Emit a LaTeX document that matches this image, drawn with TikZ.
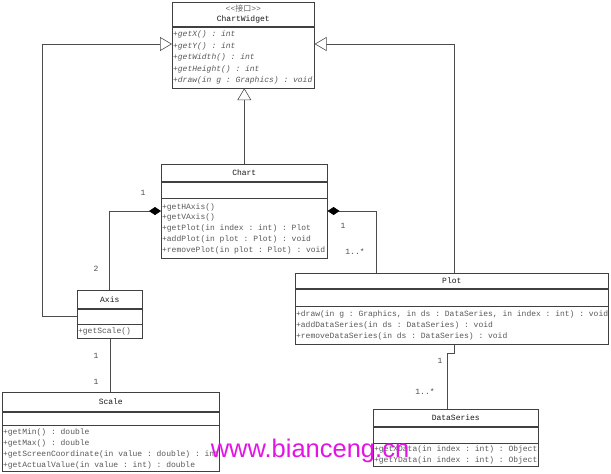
\documentclass[tikz,border=0pt]{standalone}
\usepackage{fontspec}
\newfontfamily\umlfont{Liberation Mono}
\newfontfamily\cjk{Noto Sans CJK SC}
\newfontfamily\markfont{Liberation Sans}
\usetikzlibrary{arrows.meta, positioning}
\definecolor{wmark}{RGB}{228,20,228}
% fixed spaces, no line breaks in the member lists
\newcommand\umlsp{\spaceskip=0.6em\relax\xspaceskip=0.6em\relax}
\newcommand\members[1]{\begin{tabular}{@{}l@{}}#1\end{tabular}}
\tikzset{
    cls_title/.style={
        rectangle, draw=black!75, line width=0.6pt, inner sep=0pt,
        anchor=north west, align=center,
        font=\umlfont\fontsize{8}{10}\selectfont, text=black!90
    },
    cls_attr/.style={
        rectangle, draw=black!75, line width=0.6pt, inner sep=0pt
    },
    cls_ops/.style={
        rectangle, draw=black!75, line width=0.6pt, inner xsep=0.8pt, inner ysep=0pt,
        align=left, font=\umlfont\fontsize{8}{11}\selectfont, text=black!65,
        execute at begin node=\umlsp
    },
    gen_arrow/.style={
        -{Triangle[open, length=12pt, width=14pt, fill=white]}, draw=black!70, line width=0.6pt
    },
    comp_arrow/.style={
        {Diamond[length=12pt, width=8pt, color=black]}-, draw=black!70, line width=0.6pt
    },
    assoc_line/.style={
        draw=black!70, line width=0.6pt
    },
    mult/.style={
        font=\umlfont\fontsize{8}{9}\selectfont, text=black!70, inner sep=0pt
    }
}

\begin{document}
\begin{tikzpicture}[x=1pt, y=-1pt]
\useasboundingbox[fill=white] (0,0) rectangle (611,474);

% interface
\node[cls_title, minimum width=142pt, minimum height=24pt] (cwT) at (172,2) {{\color{black!60}<<{\cjk 接口}>>}\\ChartWidget};
\node[cls_ops, text width=140.4pt, minimum height=61pt, below=0pt of cwT, font=\umlfont\itshape\fontsize{8}{11.4}\selectfont] (cwO) {\members{+getX() : int\\+getY() : int\\+getWidth() : int\\+getHeight() : int\\+draw(in g : Graphics) : void}};

% classes
\node[cls_title, minimum width=166pt, minimum height=17pt] (chartT) at (161,164) {Chart};
\node[cls_attr, minimum width=166pt, minimum height=16pt, below=0pt of chartT] (chartA) {};
\node[cls_ops, text width=164.4pt, minimum height=60pt, below=0pt of chartA, font=\umlfont\fontsize{8}{10.8}\selectfont] (chartO) {\members{+getHAxis()\\+getVAxis()\\+getPlot(in index : int) : Plot\\+addPlot(in plot : Plot) : void\\+removePlot(in plot : Plot) : void}};

\node[cls_title, minimum width=65pt, minimum height=18pt] (axisT) at (77,290) {Axis};
\node[cls_attr, minimum width=65pt, minimum height=15pt, below=0pt of axisT] (axisA) {};
\node[cls_ops, text width=63.4pt, minimum height=14pt, below=0pt of axisA] (axisO) {\members{+getScale()}};

\node[cls_title, minimum width=313pt, minimum height=15pt] (plotT) at (295,273) {Plot};
\node[cls_attr, minimum width=313pt, minimum height=17pt, below=0pt of plotT] (plotA) {};
\node[cls_ops, text width=311.4pt, minimum height=38pt, below=0pt of plotA] (plotO) {\members{+draw(in g : Graphics, in ds : DataSeries, in index : int) : void\\+addDataSeries(in ds : DataSeries) : void\\+removeDataSeries(in ds : DataSeries) : void}};

\node[cls_title, minimum width=217pt, minimum height=19pt] (scaleT) at (2,392) {Scale};
\node[cls_attr, minimum width=217pt, minimum height=13pt, below=0pt of scaleT] (scaleA) {};
\node[cls_ops, text width=215.4pt, minimum height=46pt, below=0pt of scaleA] (scaleO) {\members{+getMin() : double\\+getMax() : double\\+getScreenCoordinate(in value : double) : int\\+getActualValue(in value : int) : double}};

\node[cls_title, minimum width=165pt, minimum height=17pt] (dsT) at (373,409) {DataSeries};
\node[cls_attr, minimum width=165pt, minimum height=16pt, below=0pt of dsT] (dsA) {};
\node[cls_ops, text width=163.4pt, minimum height=23pt, below=0pt of dsA] (dsO) {\members{+getXData(in index : int) : Object\\+getYData(in index : int) : Object}};

% bends
\coordinate (lbend) at (42,44);
\coordinate (rbend) at (454,44);
\coordinate (ljoin) at (109,211);
\coordinate (rjoin) at (376,211);
\coordinate (djog) at (454,353);
\coordinate (djog2) at (447,353);

% generalization
\draw[gen_arrow] (chartT.north) -- (chartT.north |- cwO.south);
\draw[gen_arrow] (axisA.west) -| (lbend) -- (lbend -| cwO.west);
\draw[gen_arrow] (rbend |- plotT.north) -- (rbend) -- (rbend -| cwO.east);

% composition
\draw[comp_arrow] (ljoin -| chartO.west) -- (ljoin) -- (ljoin |- axisT.north);
\draw[comp_arrow] (rjoin -| chartO.east) -- (rjoin) -- (rjoin |- plotT.north);

% association
\draw[assoc_line] (axisO.south) -- (axisO.south |- scaleT.north);
\draw[assoc_line] (djog |- plotO.south) -- (djog) -- (djog2) -- (djog2 |- dsT.north);

% multiplicities
\node[mult] (m1) at (143,193) {1};
\node[mult] (m2) at (96,269) {2};
\node[mult] (m3) at (343,226) {1};
\node[mult] (m4) at (355,252) {1..*};
\node[mult] (m5) at (96,356) {1};
\node[mult] (m6) at (96,382) {1};
\node[mult] (m7) at (440,361) {1};
\node[mult] (m8) at (425,392) {1..*};

% watermark
\node[anchor=base, inner sep=0pt, font=\markfont\fontsize{25.5}{26}\selectfont, text=wmark] (wm) at (310,457) {www.bianceng.cn};
\end{tikzpicture}
\end{document}
